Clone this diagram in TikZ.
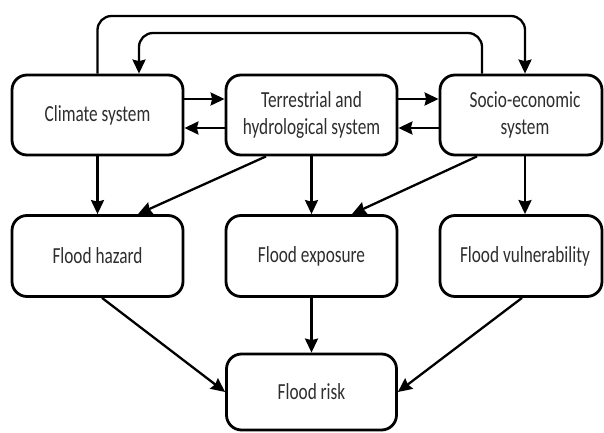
\documentclass[tikz,border=0pt]{standalone}
\usepackage{fontspec}
\setmainfont{Carlito}[FakeStretch=0.75]
\usetikzlibrary{arrows.meta}
\tikzset{
	block/.style={draw=black, line width=2.8pt, rounded corners=15pt, minimum width=171pt, minimum height=80pt, inner sep=0pt, align=center, text=black!82, font=\fontsize{23}{27}\selectfont},
	link/.style={line width=2.3pt, -{Stealth[length=14pt,width=13pt,inset=1.5pt]}},
}

\begin{document}
\begin{tikzpicture}[x=1pt, y=1pt]
			%%%%% START %%%%%
			\useasboundingbox[fill=white] (0, 0) rectangle (604, 432);
			
			\node[block] (climate) at (97.5, 317) {Climate system};
			\node[block] (terr) at (311.5, 317) {Terrestrial and\\hydrological system};
			\node[block, minimum width=162pt] (socio) at (521, 317) {\hspace*{8pt}Socio-economic\\\hspace*{8pt}system};
			
			\node[block, minimum height=81pt] (hazard) at (97.5, 176) {Flood hazard};
			\node[block, minimum height=81pt] (exposure) at (311.5, 176) {Flood exposure};
			\node[block, minimum height=81pt, minimum width=162pt] (vuln) at (521, 176) {\hspace*{8pt}Flood vulnerability};
			
			\node[block, minimum height=76pt, minimum width=170pt] (risk) at (311.5, 40) {Flood risk};
			
			% two way links in the top row
			\draw[link] ([yshift=16pt]climate.east) -- ([yshift=16pt]terr.west);
			\draw[link] ([yshift=-13pt]terr.west) -- ([yshift=-13pt]climate.east);
			\draw[link] ([yshift=16pt]terr.east) -- ([yshift=16pt]socio.west);
			\draw[link] ([yshift=-13pt]socio.west) -- ([yshift=-13pt]terr.east);
			
			% feedback loops over the top
			\coordinate (outer) at (300, 416);
			\coordinate (inner) at (300, 399);
			\draw[link, rounded corners=14pt] (climate.north) |- (outer) -| ([xshift=4pt]socio.north);
			\draw[link, rounded corners=14pt] ([xshift=-39pt]socio.north) |- (inner) -| ([xshift=41.5pt]climate.north);
			
			% drivers
			\draw[link] (climate) -- (hazard);
			\draw[link] ([xshift=-45.5pt]terr.south) -- ([xshift=40.5pt]hazard.north);
			\draw[link] (terr) -- (exposure);
			\draw[link] ([xshift=-44pt]socio.south) -- ([xshift=40.5pt]exposure.north);
			\draw[link] ([xshift=4pt]socio.south) -- ([xshift=4pt]vuln.north);
			
			% risk
			\draw[link] ([xshift=4.5pt]hazard.south) -- (risk.west);
			\draw[link] (exposure) -- (risk);
			\draw[link] ([xshift=1pt]vuln.south) -- (risk.east);
			
			%%%%% END %%%%%
\end{tikzpicture}
\end{document}
